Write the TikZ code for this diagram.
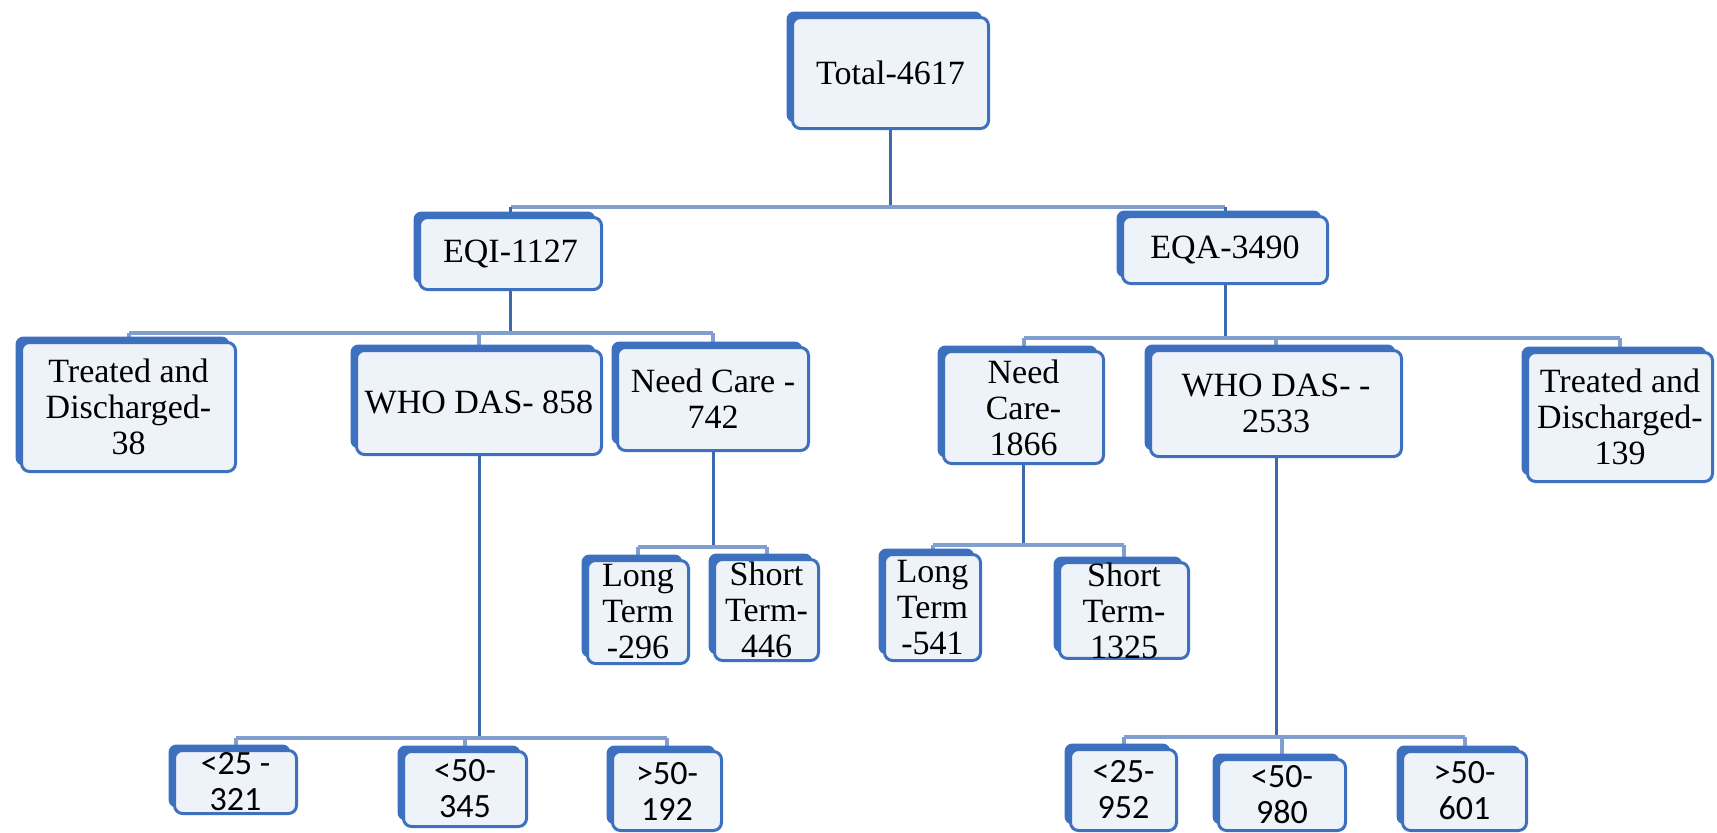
\documentclass[tikz,border=0pt]{standalone}
\usepackage{fontspec}
\setmainfont{Liberation Serif}
\newfontfamily\tms{Liberation Serif}
\newfontfamily\calib{Carlito}
\usetikzlibrary{shadows,backgrounds}
\definecolor{boxblue}{RGB}{62,112,192}
\definecolor{boxfill}{RGB}{238,242,249}
\definecolor{stemcol}{RGB}{60,104,176}
\definecolor{buscol}{RGB}{128,158,206}
\tikzset{
  bx/.style={draw=boxblue, line width=3pt, fill=boxfill, rounded corners=8pt,
    general shadow={fill=boxblue, shadow xshift=-6pt, shadow yshift=6pt},
    align=center, inner sep=0pt, font=\tms\fontsize{34}{36}\selectfont},
  sbx/.style={bx, font=\calib\fontsize{34}{36}\selectfont},
  stem/.style={draw=stemcol, line width=3pt},
  bus/.style={draw=buscol, line width=4pt},
}
\begin{document}
\begin{tikzpicture}[x=1pt,y=-1pt]
\useasboundingbox (0,0) rectangle (1717,833);
\node[bx, minimum width=196, minimum height=111] (total) at (890.5,73) {Total-4617};
\node[bx, minimum width=182, minimum height=72] (eqi) at (510.5,253.5) {EQI-1127};
\node[bx, minimum width=205, minimum height=67] (eqa) at (1225,250) {EQA-3490};
\node[bx, minimum width=214, minimum height=129] (td38) at (128.5,407) {Treated and\\Discharged-\\38};
\node[bx, minimum width=245, minimum height=104] (who858) at (479,402.5) {WHO DAS- 858};
\node[bx, minimum width=191, minimum height=103] (nc742) at (713,399) {Need Care -\\742};
\node[bx, minimum width=160, minimum height=112] (nc1866) at (1023.5,407.5) {Need\\Care-\\1866};
\node[bx, minimum width=251, minimum height=106] (who2533) at (1276,403.5) {WHO DAS- -\\2533};
\node[bx, minimum width=185, minimum height=129] (td139) at (1620,417) {Treated and\\Discharged-\\139};
\node[bx, minimum width=101, minimum height=103] (lt296) at (638,612) {Long\\Term\\-296};
\node[bx, minimum width=104, minimum height=101] (st446) at (766.5,610) {Short\\Term-\\446};
\node[bx, minimum width=96, minimum height=106] (lt541) at (932.5,607.5) {Long\\Term\\-541};
\node[bx, minimum width=129, minimum height=92] (st1325) at (1124,610.5) {Short\\Term-\\1325};
\node[sbx, minimum width=122, minimum height=63] (a321) at (235.5,782) {<25 -\\321};
\node[sbx, minimum width=123, minimum height=75] (b345) at (465,789) {<50-\\345};
\node[sbx, minimum width=109, minimum height=79] (c192) at (667,791) {>50-\\192};
\node[sbx, minimum width=106, minimum height=81] (a952) at (1123.5,790) {<25-\\952};
\node[sbx, minimum width=127, minimum height=71] (b980) at (1282,795) {<50-\\980};
\node[sbx, minimum width=124, minimum height=79] (c601) at (1464.5,791) {>50-\\601};
\coordinate (bus1) at (0,207);
\coordinate (bus2) at (0,333);
\coordinate (bus3) at (0,338);
\coordinate (bus4) at (0,547);
\coordinate (bus5) at (0,545);
\coordinate (bus6) at (0,738);
\coordinate (bus7) at (0,737);
\begin{scope}[on background layer]
\draw[stem] (total.south) -- (total.south |- bus1);
\draw[bus] (eqi.north |- bus1) -- (eqa.north |- bus1);
\draw[stem] (eqi.north |- bus1) -- (eqi.north);
\draw[stem] (eqa.north |- bus1) -- (eqa.north);
\draw[stem] (eqi.south) -- (eqi.south |- bus2);
\draw[bus] (td38.north |- bus2) -- (nc742.north |- bus2);
\draw[bus] (td38.north |- bus2) -- (td38.north);
\draw[bus] (who858.north |- bus2) -- (who858.north);
\draw[bus] (nc742.north |- bus2) -- (nc742.north);
\draw[stem] (eqa.south) -- (eqa.south |- bus3);
\draw[bus] (nc1866.north |- bus3) -- (td139.north |- bus3);
\draw[bus] (nc1866.north |- bus3) -- (nc1866.north);
\draw[bus] (who2533.north |- bus3) -- (who2533.north);
\draw[bus] (td139.north |- bus3) -- (td139.north);
\draw[stem] (nc742.south) -- (nc742.south |- bus4);
\draw[bus] (lt296.north |- bus4) -- (st446.north |- bus4);
\draw[bus] (lt296.north |- bus4) -- (lt296.north);
\draw[bus] (st446.north |- bus4) -- (st446.north);
\draw[stem] (nc1866.south) -- (nc1866.south |- bus5);
\draw[bus] (lt541.north |- bus5) -- (st1325.north |- bus5);
\draw[bus] (lt541.north |- bus5) -- (lt541.north);
\draw[bus] (st1325.north |- bus5) -- (st1325.north);
\draw[stem] (who858.south) -- (who858.south |- bus6);
\draw[bus] (a321.north |- bus6) -- (c192.north |- bus6);
\draw[bus] (a321.north |- bus6) -- (a321.north);
\draw[bus] (b345.north |- bus6) -- (b345.north);
\draw[bus] (c192.north |- bus6) -- (c192.north);
\draw[stem] (who2533.south) -- (who2533.south |- bus7);
\draw[bus] (a952.north |- bus7) -- (c601.north |- bus7);
\draw[bus] (a952.north |- bus7) -- (a952.north);
\draw[bus] (b980.north |- bus7) -- (b980.north);
\draw[bus] (c601.north |- bus7) -- (c601.north);
\end{scope}
\end{tikzpicture}
\end{document}
